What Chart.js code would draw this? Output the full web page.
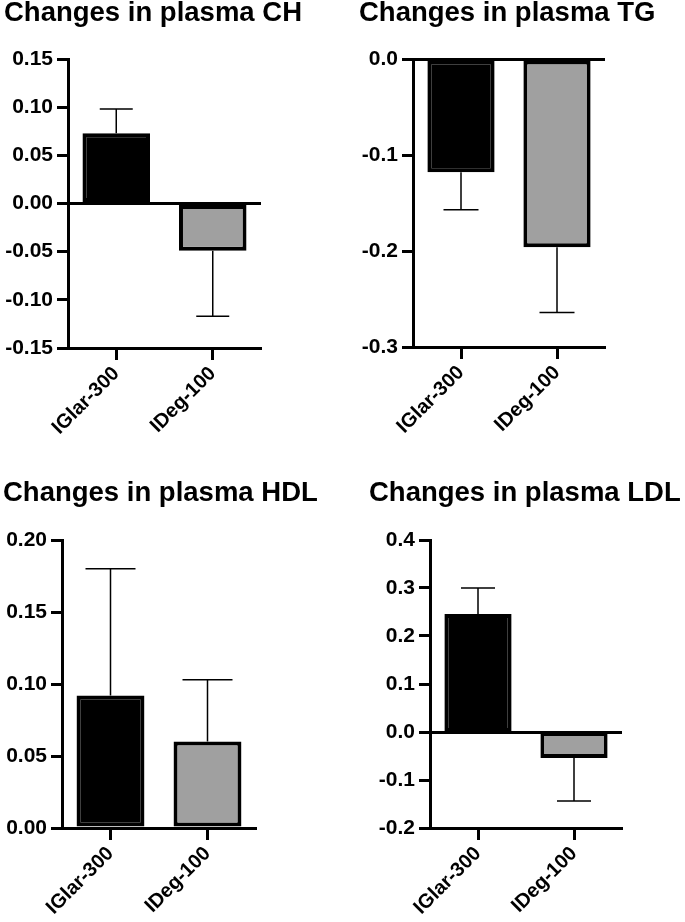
<!DOCTYPE html>
<html>
<head>
<meta charset="utf-8">
<script src="https://cdn.jsdelivr.net/npm/chart.js@4"></script>
<style>
  body { margin: 0; background: #fff; }
  .wrap { position: relative; width: 685px; height: 922px; }
  canvas { position: absolute; }
</style>
</head>
<body>
<div class="wrap">
  <canvas id="ch" width="342" height="460" style="left:0;top:0"></canvas>
  <canvas id="tg" width="343" height="460" style="left:342px;top:0"></canvas>
  <canvas id="hdl" width="342" height="462" style="left:0;top:460px"></canvas>
  <canvas id="ldl" width="343" height="462" style="left:342px;top:460px"></canvas>
</div>
<script>
// groups and mean changes (+ SEM)
const groups = ['IGlar-300', 'IDeg-100'];
const barColors = ['#000000', '#a0a0a0'];

const chMean = [0.073, -0.049];
const chErr = [0.025, 0.068];
const tgMean = [-0.118, -0.196];
const tgErr = [0.039, 0.068];
const hdlMean = [0.092, 0.060];
const hdlErr = [0.088, 0.043];
const ldlMean = [0.246, -0.054];
const ldlErr = [0.054, 0.090];

const FONT = "'Liberation Sans', Arial, sans-serif";

// one-sided error bars, drawn away from zero
const errorBars = {
  id: 'errorBars',
  afterDatasetsDraw(chart, args, opts) {
    const ctx = chart.ctx;
    const ds = chart.data.datasets[0];
    const yScale = chart.scales.y;
    ctx.save();
    ctx.strokeStyle = '#000';
    ctx.lineWidth = 1.5;
    chart.getDatasetMeta(0).data.forEach((bar, i) => {
      const v = ds.data[i];
      const end = v + Math.sign(v) * ds.errors[i];
      const y0 = yScale.getPixelForValue(v);
      const y1 = yScale.getPixelForValue(end);
      ctx.beginPath();
      ctx.moveTo(bar.x, y0);
      ctx.lineTo(bar.x, y1);
      ctx.moveTo(bar.x - opts.cap / 2, y1);
      ctx.lineTo(bar.x + opts.cap / 2, y1);
      ctx.stroke();
    });
    ctx.restore();
  }
};

function makePanel(id, title, means, errs, yMin, yMax, step, decimals, lay) {
  const ctx = document.getElementById(id).getContext('2d');
  return new Chart(ctx, {
    type: 'bar',
    data: {
      labels: groups,
      datasets: [{
        data: means,
        errors: errs,
        backgroundColor: barColors,
        borderColor: '#000',
        borderWidth: 4,
        borderSkipped: false,
        barPercentage: 0.7,
        categoryPercentage: 1
      }]
    },
    plugins: [errorBars],
    options: {
      responsive: false,
      animation: false,
      devicePixelRatio: 1,
      layout: { padding: { left: lay.left, top: 0, right: 0, bottom: 0 } },
      plugins: {
        legend: { display: false },
        tooltip: { enabled: false },
        title: {
          display: true,
          text: title,
          align: 'start',
          color: '#000',
          font: { family: FONT, size: 27.5, weight: 'bold', lineHeight: 1 },
          padding: { top: lay.titleTop, bottom: lay.titleBottom }
        },
        errorBars: { cap: lay.cap }
      },
      scales: {
        x: {
          offset: true,
          grid: { display: true, drawOnChartArea: false, offset: false, tickLength: 12, tickColor: '#000', tickWidth: 3 },
          border: { color: '#000', width: 3 },
          ticks: {
            color: '#000',
            minRotation: 45,
            maxRotation: 45,
            padding: 2,
            font: { family: FONT, size: 20, weight: 'bold' }
          },
          afterFit: s => { s.height = lay.xHeight; }
        },
        y: {
          min: yMin,
          max: yMax,
          grid: {
            drawOnChartArea: true,
            color: c => (c.tick && Math.abs(c.tick.value) < 1e-9 ? '#000' : 'rgba(0,0,0,0)'),
            lineWidth: 3,
            tickColor: '#000',
            tickWidth: 3,
            tickLength: 11
          },
          border: { color: '#000', width: 3 },
          ticks: {
            stepSize: step,
            color: '#000',
            padding: 4,
            font: { family: FONT, size: 21, weight: 'bold' },
            callback: v => Number(v).toFixed(decimals).replace(/^-0(\.0+)?$/, m => m.slice(1))
          },
          afterFit: s => { s.width = lay.yWidth; }
        },
        // empty axis on the right, only to reserve space
        yr: {
          position: 'right',
          display: true,
          grid: { display: false },
          border: { display: false },
          ticks: { display: false },
          afterFit: s => { s.width = lay.rightWidth; }
        }
      }
    }
  });
}

makePanel('ch', 'Changes in plasma CH', chMean, chErr, -0.15, 0.15, 0.05, 2,
  { left: 4, yWidth: 64, rightWidth: 81, xHeight: 112, titleTop: 0, titleBottom: 31.5, cap: 33 });
makePanel('tg', 'Changes in plasma TG', tgMean, tgErr, -0.3, 0, 0.1, 1,
  { left: 17, yWidth: 54, rightWidth: 80, xHeight: 113, titleTop: 0, titleBottom: 31.5, cap: 35 });
makePanel('hdl', 'Changes in plasma HDL', hdlMean, hdlErr, 0, 0.2, 0.05, 2,
  { left: 3, yWidth: 59, rightWidth: 86, xHeight: 94, titleTop: 19.5, titleBottom: 33, cap: 50 });
makePanel('ldl', 'Changes in plasma LDL', ldlMean, ldlErr, -0.2, 0.4, 0.1, 1,
  { left: 27, yWidth: 61, rightWidth: 63, xHeight: 94, titleTop: 19.5, titleBottom: 33, cap: 34 });
</script>
</body>
</html>
